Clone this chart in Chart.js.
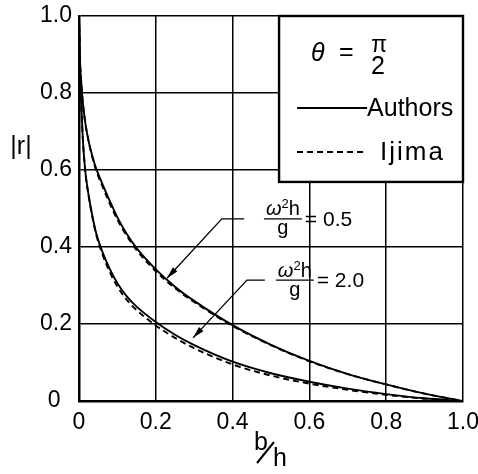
<!DOCTYPE html>
<html>
<head>
<meta charset="utf-8">
<script src="https://cdn.jsdelivr.net/npm/chart.js@4.4.1/dist/chart.umd.min.js"></script>
<style>
html,body{margin:0;padding:0;background:#fff;}
#wrap{width:478px;height:474px;position:relative;}
</style>
</head>
<body>
<div id="wrap"><canvas id="c" width="478" height="474"></canvas></div>
<script>
// ---- data ----
const bOverH    = [0, 0.002, 0.005, 0.01, 0.016, 0.025, 0.035, 0.045, 0.06, 0.08, 0.1, 0.125, 0.15, 0.2, 0.25, 0.3, 0.4, 0.5, 0.6, 0.7, 0.8, 0.9, 1.0];
const authors05 = [1.0, 0.90, 0.84, 0.775, 0.725, 0.675, 0.635, 0.603, 0.566, 0.52, 0.477, 0.433, 0.397, 0.342, 0.297, 0.26, 0.197, 0.146, 0.104, 0.07, 0.043, 0.019, 0];
const ijima05   = [1.0, 0.90, 0.84, 0.775, 0.725, 0.675, 0.632, 0.598, 0.56, 0.513, 0.471, 0.428, 0.392, 0.337, 0.293, 0.257, 0.195, 0.145, 0.103, 0.07, 0.043, 0.019, 0];
const authors20 = [1.0, 0.88, 0.79, 0.68, 0.60, 0.535, 0.48, 0.435, 0.39, 0.343, 0.306, 0.271, 0.245, 0.205, 0.172, 0.145, 0.102, 0.072, 0.05, 0.032, 0.018, 0.007, 0];
const ijima20   = [1.0, 0.88, 0.79, 0.68, 0.60, 0.533, 0.477, 0.431, 0.384, 0.335, 0.297, 0.262, 0.236, 0.196, 0.164, 0.137, 0.095, 0.066, 0.045, 0.029, 0.016, 0.006, 0];
const xTickLabels = ['0', '0.2', '0.4', '0.6', '0.8', '1.0'];
const yTickLabels = ['0\u2002', '0.2', '0.4', '0.6', '0.8', '1.0'];
const curveLabels = ['= 0.5', '= 2.0'];
// annotation anchors in data units: [tipX, tipY, bendX, bendY, endX, fracCenterX]
const leader05 = [0.229, 0.319, 0.372, 0.473, 0.430, 0.531];
const leader20 = [0.297, 0.164, 0.4375, 0.314, 0.484, 0.562];
const legendBox = [0.521, 1.0, 1.0, 0.569];

function pts(ys){ return bOverH.map((x,i)=>({x:x, y:ys[i]})); }

const FONT = '"Liberation Sans", Arial, sans-serif';

const overlay = {
  id: 'overlay',
  afterDraw(chart){
    const ctx = chart.ctx, xs = chart.scales.x, ys = chart.scales.y;
    const X = v => xs.getPixelForValue(v), Y = v => ys.getPixelForValue(v);
    ctx.save();
    ctx.fillStyle = '#000'; ctx.strokeStyle = '#000';

    // legend box
    const L = X(legendBox[0]), T = Y(legendBox[1]), R = X(legendBox[2]), B = Y(legendBox[3]);
    ctx.fillStyle = '#fff';
    ctx.fillRect(L, T, R-L, B-T);
    ctx.lineWidth = 2.4;
    ctx.strokeRect(L, T, R-L, B-T);
    ctx.fillStyle = '#000';
    ctx.textBaseline = 'middle';
    ctx.textAlign = 'left';
    ctx.font = 'italic 25px ' + FONT;
    ctx.fillText('\u03B8', L+32, T+38);
    ctx.font = '25px ' + FONT;
    ctx.fillText('=', L+60, T+37);
    ctx.textAlign = 'center';
    ctx.font = '23px ' + FONT;
    ctx.fillText('\u03C0', L+100, T+30);
    ctx.font = '25px ' + FONT;
    ctx.fillText('2', L+99, T+51);
    // legend lines
    ctx.lineWidth = 1.9;
    ctx.beginPath(); ctx.moveTo(L+18, T+92); ctx.lineTo(L+88, T+92); ctx.stroke();
    ctx.setLineDash([6,4]);
    ctx.beginPath(); ctx.moveTo(L+18, T+136); ctx.lineTo(L+88, T+136); ctx.stroke();
    ctx.setLineDash([]);
    ctx.textAlign = 'left';
    ctx.font = '25px ' + FONT;
    ctx.fillText('Authors', L+88, T+93);
    ctx.font = '26px ' + FONT;
    try { ctx.letterSpacing = '2px'; } catch(e) {}
    ctx.fillText('Ijima', L+101, T+137);
    try { ctx.letterSpacing = '0px'; } catch(e) {}

    // leaders with arrows and labels
    function leader(a, label){
      const tx = X(a[0]), ty = Y(a[1]), bx = X(a[2]), by = Y(a[3]), ex = X(a[4]), fx = X(a[5]);
      ctx.lineWidth = 1.3;
      ctx.beginPath(); ctx.moveTo(ex, by); ctx.lineTo(bx, by); ctx.lineTo(tx, ty); ctx.stroke();
      const ang = Math.atan2(ty-by, tx-bx), len = 12, w = 3;
      ctx.beginPath();
      ctx.moveTo(tx, ty);
      ctx.lineTo(tx - len*Math.cos(ang) + w*Math.sin(ang), ty - len*Math.sin(ang) - w*Math.cos(ang));
      ctx.lineTo(tx - len*Math.cos(ang) - w*Math.sin(ang), ty - len*Math.sin(ang) + w*Math.cos(ang));
      ctx.closePath(); ctx.fill();
      // fraction omega^2 h / g
      ctx.font = 'italic 20px ' + FONT;
      const wW = ctx.measureText('\u03C9').width;
      ctx.font = '13px ' + FONT;
      const w2 = ctx.measureText('2').width;
      ctx.font = '20px ' + FONT;
      const hW = ctx.measureText('h').width;
      const tot = wW + w2 + hW;
      let sx = fx - tot/2;
      ctx.textAlign = 'left';
      ctx.font = 'italic 20px ' + FONT;
      ctx.fillText('\u03C9', sx, by-9); sx += wW;
      ctx.font = '13px ' + FONT;
      ctx.fillText('2', sx, by-14); sx += w2;
      ctx.font = '20px ' + FONT;
      ctx.fillText('h', sx, by-9);
      ctx.lineWidth = 1.4;
      ctx.beginPath(); ctx.moveTo(fx - tot/2 - 2, by); ctx.lineTo(fx + tot/2 + 2, by); ctx.stroke();
      ctx.textAlign = 'center';
      ctx.fillText('g', fx, by+10);
      ctx.textAlign = 'left';
      ctx.font = '21px ' + FONT;
      ctx.fillText(label, fx + tot/2 + 5, by+1);
    }
    leader(leader05, curveLabels[0]);
    leader(leader20, curveLabels[1]);

    // axis titles
    ctx.textAlign = 'center';
    ctx.font = '25px ' + FONT;
    ctx.fillText('|r|', 21, Y(0.66));
    const cx = X(0.5), by2 = chart.chartArea.bottom;
    ctx.font = '25px ' + FONT;
    ctx.fillText('b', cx-10, by2+42);
    ctx.fillText('h', cx+9, by2+58);
    ctx.lineWidth = 2;
    ctx.beginPath(); ctx.moveTo(cx-14, by2+62); ctx.lineTo(cx+3, by2+41); ctx.stroke();
    ctx.restore();
  }
};

const style = (dash) => ({borderColor:'#000', borderWidth:1.9, pointRadius:0, fill:false,
  cubicInterpolationMode:'monotone', borderDash: dash});

new Chart(document.getElementById('c'), {
  type: 'line',
  data: {
    datasets: [
      Object.assign({label:'Authors 0.5', data: pts(authors05)}, style([])),
      Object.assign({label:'Ijima 0.5', data: pts(ijima05)}, style([6,4])),
      Object.assign({label:'Authors 2.0', data: pts(authors20)}, style([])),
      Object.assign({label:'Ijima 2.0', data: pts(ijima20)}, style([6,4]))
    ]
  },
  options: {
    responsive: false,
    animation: false,
    layout: {padding: {left: 0, right: 15, top: 16, bottom: 0}},
    plugins: {legend:{display:false}, tooltip:{enabled:false}},
    scales: {
      x: {
        type: 'linear', min: 0, max: 1,
        grid: {color:'#000', lineWidth:1.5, drawTicks:false},
        border: {color:'#000', width:2.5},
        ticks: {stepSize:0.2, color:'#000', padding:8, font:{family:FONT, size:23},
          callback: (v) => xTickLabels[Math.round(v*5)]},
        afterFit: (s) => { s.height = 73; s.paddingLeft = 0; s.paddingRight = 0; }
      },
      y: {
        type: 'linear', min: 0, max: 1,
        grid: {color:'#000', lineWidth:1.5, drawTicks:false},
        border: {color:'#000', width:2.5},
        ticks: {stepSize:0.2, color:'#000', padding:7, font:{family:FONT, size:23},
          callback: (v) => yTickLabels[Math.round(v*5)]},
        afterFit: (s) => { s.width = 79; s.paddingTop = 0; s.paddingBottom = 0; }
      }
    }
  },
  plugins: [overlay]
});
</script>
</body>
</html>
